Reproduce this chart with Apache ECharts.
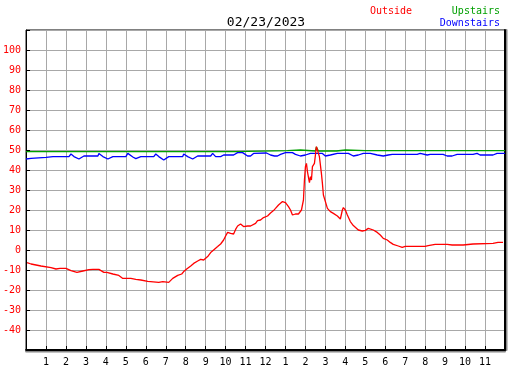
<!DOCTYPE html>
<html><head><meta charset="utf-8">
<script src="https://cdn.jsdelivr.net/npm/echarts@6/dist/echarts.min.js"></script>
<style>html,body{margin:0;padding:0;background:#fff}#c{width:527px;height:370px}</style>
</head><body><div id="c"></div>
<script>
const title = '02/23/2023';
const xTickLabels = ['', '1','2','3','4','5','6','7','8','9','10','11','12','1','2','3','4','5','6','7','8','9','10','11',''];
const yTickHidden = [-50, 110];

const outsideHours = [0.05,0.25,0.35,0.75,0.85,1.25,1.35,1.5,1.6,1.7,1.75,1.85,2.0,2.1,2.25,2.35,2.55,2.65,2.85,2.95,3.15,3.25,3.35,3.65,3.75,3.9,4.05,4.15,4.35,4.45,4.65,4.75,4.85,5.25,5.35,5.5,5.6,5.75,5.85,6.1,6.15,6.65,6.75,6.85,6.9,7.15,7.25,7.35,7.6,7.8,7.9,8.05,8.25,8.4,8.6,8.75,8.9,9.1,9.25,9.4,9.6,9.75,9.9,10.0,10.1,10.25,10.4,10.5,10.6,10.75,10.9,11.0,11.1,11.25,11.35,11.5,11.6,11.75,11.9,12.1,12.25,12.4,12.5,12.65,12.85,12.9,13.0,13.15,13.25,13.35,13.5,13.65,13.8,13.9,13.95,14.0,14.05,14.1,14.2,14.25,14.3,14.35,14.45,14.5,14.55,14.65,14.7,14.8,14.85,14.9,15.0,15.1,15.25,15.4,15.6,15.75,15.85,15.9,16.0,16.1,16.25,16.4,16.5,16.65,16.85,17.0,17.15,17.25,17.4,17.6,17.75,17.9,18.1,18.25,18.4,18.65,18.85,19.0,20.0,20.15,20.5,21.1,21.2,21.35,21.9,22.0,22.4,22.5,23.4,23.5,23.65,23.75,23.9];
const outsideTemps = [-6.3,-7,-8,-8,-8.8,-8.8,-9.5,-9.5,-9.2,-9.2,-9.5,-9.2,-9.2,-9.5,-10.3,-11.2,-11.2,-10.5,-10.5,-9.8,-9.8,-9.2,-9.7,-9.7,-10.3,-11.2,-11.2,-12,-12,-12.7,-12.7,-13.3,-14.2,-14.2,-14.7,-14.7,-15,-15,-15.7,-15.7,-16.2,-16.2,-15.8,-15.8,-16.2,-16.2,-15.5,-14.2,-12.7,-12,-10.8,-9.5,-8,-6.7,-5.5,-4.7,-5,-3.3,-1.3,0,1.7,3,5,7,8.8,8.3,8,10.3,12,13,11.7,11.3,12,12,11.3,13.3,14.7,15,16.2,17,18.5,19.7,20.8,22.5,24.2,24.5,23.7,21.7,20,17.5,18,18,20,25,35,41.7,43.3,39.2,33.7,36.7,35,41.7,43.3,47.5,51.7,48.3,46.7,38.3,33.3,27.5,24.2,20.8,19.2,18.3,17,15.5,20,21.2,20,17.5,14.2,12.2,11.2,10,9.5,9.8,10.8,10.3,10,8.8,7.5,5.8,5,3.8,2.8,2,1.3,1.8,1.8,2.2,2.8,2.8,3.2,2.5,2.5,3,3,3.3,3.3,3.8,3.8,3.3,3.8];

const upstairsHours = [0,2.2,2.25,2.3,3.6,3.65,3.7,5.05,5.1,5.15,6.45,6.5,6.55,7.85,7.9,7.95,9.3,9.35,9.4,10.5,10.6,13.1,13.15,13.75,13.8,14.5,14.55,14.65,15.55,15.6,16.0,16.05,17.0,17.05,17.1,20.2,20.25,20.3,24];
const upstairsTemps = [49.2,49.2,49.8,49.2,49.2,49.8,49.2,49.2,49.8,49.2,49.2,49.8,49.2,49.2,49.8,49.2,49.2,49.8,49.2,49.2,49.7,49.7,50,50,49.5,49.5,51.5,49.5,49.5,50,50,49.7,49.7,50.3,49.7,49.7,50.3,49.7,49.7];

const downstairsHours = [0,0.25,0.3,1.0,1.1,1.35,2.15,2.25,2.4,2.65,2.9,3.6,3.65,3.85,4.1,4.35,5.0,5.1,5.35,5.5,5.75,6.4,6.5,6.65,6.9,7.15,7.85,7.9,8.1,8.35,8.6,9.25,9.35,9.5,9.75,9.9,10.4,10.6,10.85,11.1,11.25,11.4,12.05,12.25,12.45,12.6,12.75,13.0,13.35,13.5,13.75,14.0,14.25,14.85,15.0,15.25,15.6,16.15,16.4,16.65,16.9,17.25,17.6,17.9,18.15,18.35,19.6,19.75,20.1,20.25,20.9,21.1,21.35,21.6,22.4,22.6,22.75,23.4,23.6,24];
const downstairsTemps = [45.5,45.8,46.3,46.3,45.3,46.7,46.7,48,46.7,45.5,47,47,48.3,46.7,45.5,46.7,46.7,48.3,46.5,45.7,46.7,46.7,48,46.7,45,46.7,46.7,48,46.7,45.5,47,47,48.3,46.7,46.7,47.5,47.5,48.7,48.7,47,47,48.3,48.5,47.5,47,47,47.8,48.7,48.7,47.8,47,47.5,48.3,48.3,47,47.5,48.3,48.3,47,47.5,48.3,48.3,47.5,47,47.5,47.8,47.8,48.3,47.5,47.8,47.8,47,47,47.8,47.8,48.3,47.5,47.5,48.3,48.3];

function zip(a, b) { return a.map((v, i) => [v, b[i]]); }

const mono = 'DejaVu Sans Mono';
const chart = echarts.init(document.getElementById('c'), null, {renderer: 'canvas'});
const lineSeries = (name, h, v, color) => ({
  name, type: 'line', data: zip(h, v), showSymbol: false, symbol: 'none',
  lineStyle: {color, width: 1.3}, itemStyle: {color}, animation: false, silent: true
});
chart.setOption({
  animation: false,
  backgroundColor: '#fff',
  title: {text: title, left: 261, top: 11, textAlign: 'center',
    textStyle: {fontFamily: mono, fontSize: 13, fontWeight: 'normal', color: '#000'}},
  graphic: [
    {type: 'text', left: 370, top: 6, style: {text: 'Outside', fill: '#ff0000', font: '10px ' + mono}},
    {type: 'text', right: 27, top: 6, style: {text: 'Upstairs', fill: '#00a000', font: '10px ' + mono, textAlign: 'right'}},
    {type: 'text', right: 27, top: 18, style: {text: 'Downstairs', fill: '#0000ff', font: '10px ' + mono, textAlign: 'right'}}
  ],
  grid: {left: 25, top: 30, width: 480, height: 320, show: true, borderColor: '#000', borderWidth: 1, backgroundColor: '#fff'},
  xAxis: {
    type: 'value', min: 0, max: 24, interval: 1,
    axisLine: {show: true, onZero: false, lineStyle: {color: '#000', width: 2, shadowColor: '#888', shadowOffsetY: 1.5}},
    axisTick: {show: true, inside: true, length: 4, lineStyle: {color: '#000', width: 1}},
    axisLabel: {margin: 7, color: '#000', fontFamily: mono, fontSize: 10,
      formatter: (v) => xTickLabels[Math.round(v)] ?? ''},
    splitLine: {show: true, lineStyle: {color: '#a8a8a8', width: 1}}
  },
  yAxis: [{
    type: 'value', min: -50, max: 110, interval: 10,
    axisLine: {show: true, onZero: false, lineStyle: {color: '#000', width: 1}},
    axisTick: {show: true, inside: true, length: 4, lineStyle: {color: '#000'}},
    axisLabel: {margin: 5, color: '#ff0000', fontFamily: mono, fontSize: 10,
      formatter: (v) => yTickHidden.includes(v) ? '' : String(v)},
    splitLine: {show: true, lineStyle: {color: '#a8a8a8', width: 1}}
  }, {
    type: 'value', min: -50, max: 110, interval: 10, position: 'right',
    axisLine: {show: true, onZero: false, lineStyle: {color: '#000', width: 2, shadowColor: '#888', shadowOffsetX: 1.5}},
    axisTick: {show: false}, axisLabel: {show: false}, splitLine: {show: false}
  }],
  series: [
    lineSeries('Upstairs', upstairsHours, upstairsTemps, '#00a000'),
    lineSeries('Downstairs', downstairsHours, downstairsTemps, '#0000ff'),
    lineSeries('Outside', outsideHours, outsideTemps, '#ff0000')
  ]
});
</script></body></html>
